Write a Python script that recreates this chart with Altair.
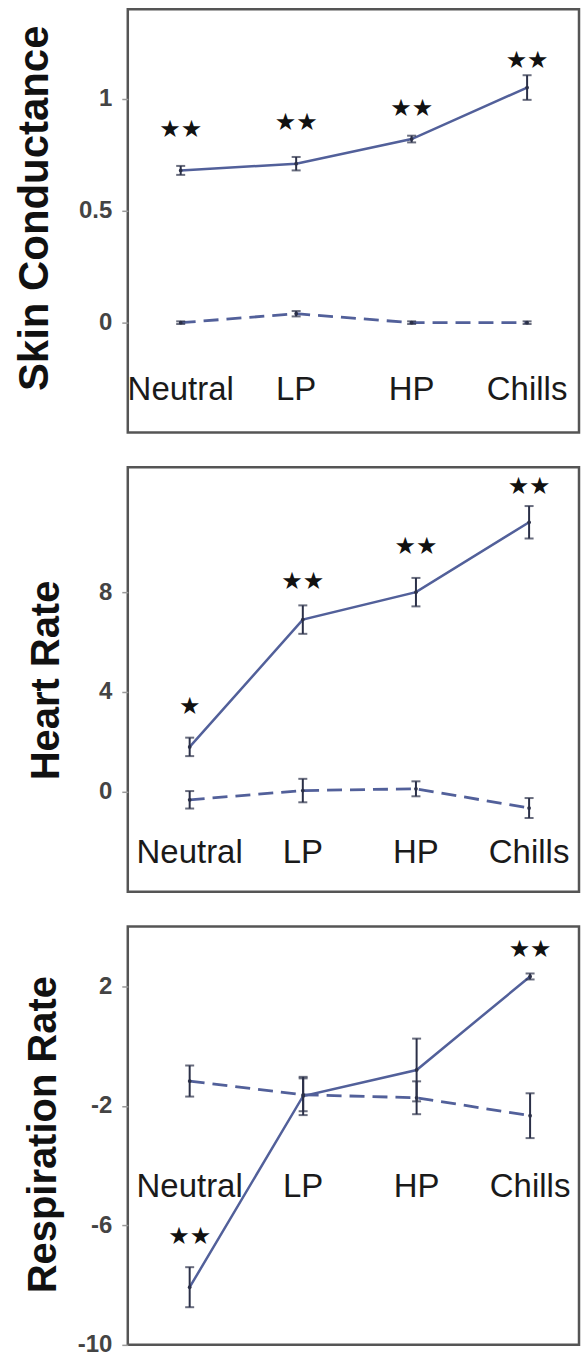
import altair as alt
import pandas as pd

cats = ["Neutral", "LP", "HP", "Chills"]

# Skin conductance
sc_solid = [0.68, 0.71, 0.82, 1.05]
sc_solid_err = [0.02, 0.03, 0.015, 0.055]
sc_dash = [0.0, 0.04, 0.0, 0.0]
sc_dash_err = [0.006, 0.012, 0.006, 0.006]
sc_stars = ["★★", "★★", "★★", "★★"]
sc_star_y = [0.86, 0.89, 0.955, 1.17]
sc_label_y = -0.30
sc_domain = [-0.49, 1.40]
sc_ticks = [0, 0.5, 1]

# Heart rate
hr_solid = [1.8, 6.9, 8.0, 10.8]
hr_solid_err = [0.37, 0.57, 0.57, 0.65]
hr_dash = [-0.32, 0.05, 0.12, -0.65]
hr_dash_err = [0.35, 0.47, 0.3, 0.4]
hr_stars = ["★", "★★", "★★", "★★"]
hr_star_y = [3.4, 8.4, 9.8, 12.2]
hr_label_y = -2.45
hr_domain = [-4, 13]
hr_ticks = [0, 4, 8]

# Respiration rate
rr_solid = [-8.07, -1.67, -0.8, 2.33]
rr_solid_err = [0.67, 0.64, 1.05, 0.1]
rr_dash = [-1.17, -1.63, -1.73, -2.33]
rr_dash_err = [0.52, 0.55, 0.55, 0.75]
rr_stars = ["★★", "", "", "★★"]
rr_star_y = [-6.4, 0, 0, 3.2]
rr_label_y = -4.73
rr_domain = [-10, 4]
rr_ticks = [2, -2, -6, -10]

LINE = "#52609a"
ERR = "#2b3048"
W = 452


def panel(s, se, d, de, stars, star_y, label_y, domain, ticks, height,
          title, tsize, tx, ty, xrange):
    lines = pd.DataFrame({
        "cat": cats * 2,
        "series": ["solid"] * 4 + ["dashed"] * 4,
        "v": s + d,
        "lo": [v - e for v, e in zip(s, se)] + [v - e for v, e in zip(d, de)],
        "hi": [v + e for v, e in zip(s, se)] + [v + e for v, e in zip(d, de)],
    })
    star_df = pd.DataFrame({"cat": cats, "t": stars, "y": star_y})
    star_df = star_df[star_df["t"] != ""]
    lab_df = pd.DataFrame({"cat": cats, "y": [label_y] * 4})

    xs = alt.Scale(type="point", domain=cats, range=xrange, padding=0)
    x = alt.X("cat:N", scale=xs, axis=None, sort=cats)
    ys = alt.Scale(domain=domain, nice=False, zero=False)
    yaxis = alt.Axis(values=ticks, labelExpr="'' + datum.value", title=title,
                     grid=False, domain=False, tickColor="#9a9a9a", tickSize=6,
                     tickWidth=1.5, labelFont="Liberation Sans", labelFontSize=24,
                     labelFontWeight="bold", labelColor="#444", labelPadding=10,
                     titleFont="Liberation Sans", titleFontSize=tsize,
                     titleFontWeight="bold", titleColor="#111", titleAngle=270,
                     titleX=tx, titleY=ty, titleAlign="center",
                     titleBaseline="alphabetic")

    base = alt.Chart(lines)
    solid = base.transform_filter(alt.datum.series == "solid").mark_line(
        color=LINE, strokeWidth=2.5).encode(
        x=x, y=alt.Y("v:Q", scale=ys, axis=yaxis))
    dashed = base.transform_filter(alt.datum.series == "dashed").mark_line(
        color=LINE, strokeWidth=2.8, strokeDash=[15, 8]).encode(
        x=x, y=alt.Y("v:Q"))
    rules = base.mark_rule(color=ERR, strokeWidth=2).encode(
        x=x, y=alt.Y("lo:Q"), y2="hi:Q")
    cap_lo = base.mark_tick(color=ERR, size=9, thickness=2,
                            orient="horizontal").encode(x=x, y="lo:Q")
    cap_hi = base.mark_tick(color=ERR, size=9, thickness=2,
                            orient="horizontal").encode(x=x, y="hi:Q")
    pts = base.mark_point(filled=True, color=ERR, size=14, opacity=1).encode(
        x=x, y="v:Q")
    st = alt.Chart(star_df).mark_text(font="DejaVu Sans", fontSize=24,
                                      color="#111", baseline="middle").encode(
        x=x, y="y:Q", text="t:N")
    lab = alt.Chart(lab_df).mark_text(font="Liberation Sans", fontSize=33,
                                      color="#1a1a1a", baseline="middle").encode(
        x=x, y="y:Q", text="cat:N")
    return alt.layer(solid, dashed, rules, cap_lo, cap_hi, pts, st, lab).properties(
        width=W, height=height)


p1 = panel(sc_solid, sc_solid_err, sc_dash, sc_dash_err, sc_stars, sc_star_y,
           sc_label_y, sc_domain, sc_ticks, 424, "Skin Conductance", 42,
           -80, 199, [53, 400])
p2 = panel(hr_solid, hr_solid_err, hr_dash, hr_dash_err, hr_stars, hr_star_y,
           hr_label_y, hr_domain, hr_ticks, 425, "Heart Rate", 40,
           -69, 213, [62, 402])
p3 = panel(rr_solid, rr_solid_err, rr_dash, rr_dash_err, rr_stars, rr_star_y,
           rr_label_y, rr_domain, rr_ticks, 419, "Respiration Rate", 40,
           -72, 208, [62, 403])

chart = alt.vconcat(p1, p2, p3, spacing=31).properties(
    padding={"top": 6, "left": 12, "right": 0, "bottom": 0},
    background="white",
).configure_view(stroke="#555", strokeWidth=2.5)

chart.save("out.html", embed_options={"renderer": "svg", "actions": False})
